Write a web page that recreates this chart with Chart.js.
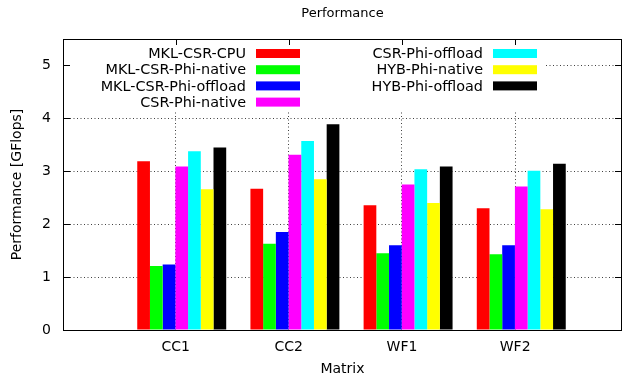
<!DOCTYPE html>
<html><head><meta charset="utf-8">
<script src="https://cdn.jsdelivr.net/npm/chart.js@4/dist/chart.umd.min.js"></script>
<style>html,body{margin:0;padding:0;background:#fff}canvas{display:block}</style>
</head><body>
<canvas id="c" width="625" height="378"></canvas>
<script>
// ---- data ----
const categories = ['CC1', 'CC2', 'WF1', 'WF2'];
const seriesNames = ['MKL-CSR-CPU', 'MKL-CSR-Phi-native', 'MKL-CSR-Phi-offload', 'CSR-Phi-native',
                     'CSR-Phi-offload', 'HYB-Phi-native', 'HYB-Phi-offload'];
const mklCsrCpu        = [3.19, 2.67, 2.36, 2.30];
const mklCsrPhiNative  = [1.21, 1.63, 1.45, 1.43];
const mklCsrPhiOffload = [1.24, 1.85, 1.60, 1.60];
const csrPhiNative     = [3.09, 3.31, 2.75, 2.71];
const csrPhiOffload    = [3.38, 3.57, 3.04, 3.01];
const hybPhiNative     = [2.66, 2.85, 2.40, 2.28];
const hybPhiOffload    = [3.45, 3.89, 3.09, 3.14];
const yTicks = [0, 1, 2, 3, 4, 5];

const seriesValues = [mklCsrCpu, mklCsrPhiNative, mklCsrPhiOffload, csrPhiNative,
                      csrPhiOffload, hybPhiNative, hybPhiOffload];
const colors = ['#ff0000', '#00ff00', '#0000ff', '#ff00ff', '#00ffff', '#ffff00', '#000000'];

const FONT = '"DejaVu Sans", sans-serif';
const GROUP_SHIFT = 0.054; // cluster is drawn slightly right of the tick

const datasets = seriesNames.map((name, s) => ({
  label: name,
  data: seriesValues[s].map((v, i) => ({ x: i + GROUP_SHIFT, y: v })),
  backgroundColor: colors[s],
  borderWidth: 0,
  categoryPercentage: 0.786,
  barPercentage: 1.0
}));

const frame = {
  id: 'frame',
  afterDatasetsDraw(chart) {
    const ctx = chart.ctx, a = chart.chartArea;
    const xs = chart.scales.x, ys = chart.scales.y;
    ctx.save();
    // opaque key box
    ctx.fillStyle = '#fff';
    ctx.fillRect(a.left + 1, a.top + 1, 545 - a.left, 111 - a.top);
    // key entries
    ctx.font = '14.4px ' + FONT;
    ctx.textAlign = 'right';
    ctx.textBaseline = 'middle';
    const cols = [{tx: 246, bx: 256, n: 4}, {tx: 483, bx: 493, n: 3}];
    let k = 0;
    cols.forEach(c => {
      for (let r = 0; r < c.n; r++, k++) {
        const yc = 53.5 + r * 16.2;
        ctx.fillStyle = '#000';
        ctx.fillText(seriesNames[k], c.tx, yc + 1);
        ctx.fillStyle = colors[k];
        ctx.fillRect(c.bx, yc - 4.5, 44, 9);
      }
    });
    // border
    ctx.strokeStyle = '#000';
    ctx.lineWidth = 1;
    ctx.strokeRect(a.left + 0.5, a.top + 0.5, a.right - a.left - 1, a.bottom - a.top);
    // inward ticks
    ctx.beginPath();
    yTicks.forEach(v => {
      const y = Math.round(ys.getPixelForValue(v)) + 0.5;
      ctx.moveTo(a.left, y); ctx.lineTo(a.left + 7, y);
      ctx.moveTo(a.right, y); ctx.lineTo(a.right - 7, y);
    });
    categories.forEach((c, i) => {
      const x = Math.round(xs.getPixelForValue(i)) + 0.5;
      ctx.moveTo(x, a.top); ctx.lineTo(x, a.top + 6);
    });
    ctx.stroke();
    // titles
    ctx.fillStyle = '#000';
    ctx.textAlign = 'center';
    ctx.textBaseline = 'middle';
    ctx.font = '13px ' + FONT;
    ctx.fillText('Performance', (a.left + a.right) / 2, 14);
    ctx.font = '14px ' + FONT;
    ctx.fillText('Matrix', (a.left + a.right) / 2, 369);
    ctx.translate(17, (a.top + a.bottom) / 2);
    ctx.rotate(-Math.PI / 2);
    ctx.fillText('Performance [GFlops]', 0, 0);
    ctx.restore();
  }
};

new Chart(document.getElementById('c'), {
  type: 'bar',
  data: { datasets },
  options: {
    responsive: false,
    animation: false,
    layout: { padding: { top: 39, left: 0, right: 3, bottom: 0 } },
    plugins: { legend: { display: false }, tooltip: { enabled: false }, title: { display: false } },
    scales: {
      x: {
        type: 'linear',
        offset: false,
        min: -0.995,
        max: 3.944,
        afterBuildTicks: s => { s.ticks = categories.map((c, i) => ({ value: i })); },
        afterFit: s => { s.height = 48; },
        ticks: {
          callback: (v) => categories[v] !== undefined ? categories[v] : '',
          font: { family: FONT, size: 14 },
          color: '#000',
          padding: 9,
          maxRotation: 0,
          autoSkip: false
        },
        grid: { offset: false, color: 'rgba(0,0,0,0.75)', lineWidth: 1, drawTicks: false },
        border: { display: false, dash: [1, 2.5] }
      },
      y: {
        type: 'linear',
        min: 0,
        max: 5.5,
        afterBuildTicks: s => { s.ticks = yTicks.map(v => ({ value: v })); },
        afterFit: s => { s.width = 63; },
        ticks: {
          font: { family: FONT, size: 14 },
          color: '#000',
          padding: 12
        },
        grid: { color: 'rgba(0,0,0,0.75)', lineWidth: 1, drawTicks: false },
        border: { display: false, dash: [1, 2.5] }
      }
    }
  },
  plugins: [frame]
});
</script>
</body></html>
